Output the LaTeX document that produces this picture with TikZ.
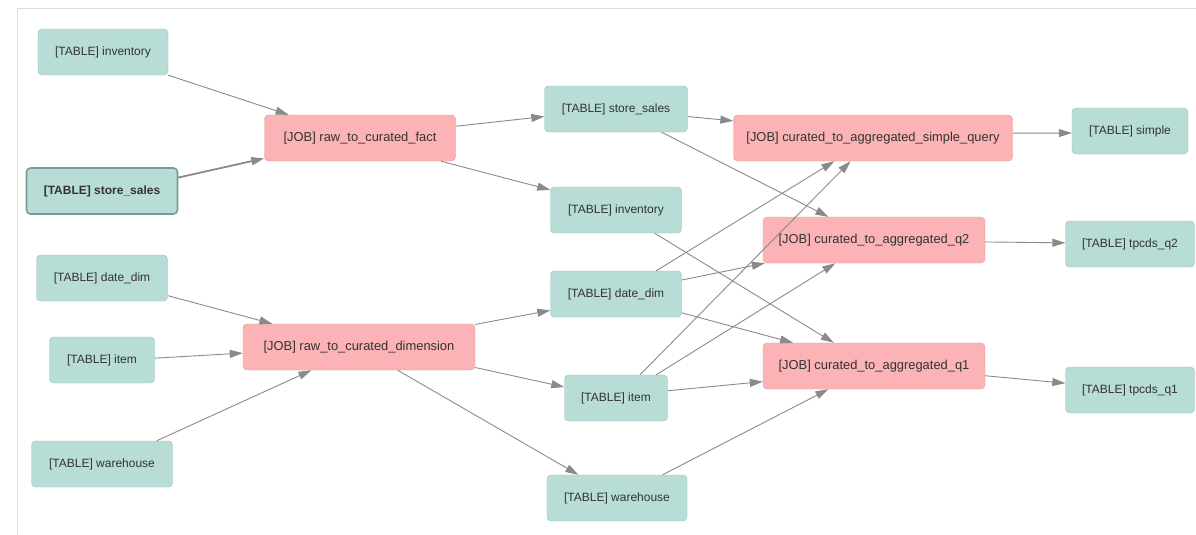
\documentclass[tikz,border=0pt]{standalone}
\usepackage{fontspec}
\setmainfont{Liberation Sans}
\usetikzlibrary{arrows.meta}
\definecolor{tablefill}{HTML}{B8DDD6}
\definecolor{tabledraw}{HTML}{96C2BA}
\definecolor{jobfill}{HTML}{FBB3B5}
\definecolor{jobdraw}{HTML}{E39A9D}
\definecolor{edgegray}{HTML}{8A8A8A}
\definecolor{textgray}{HTML}{333333}
\definecolor{framegray}{HTML}{DDDDDD}
\begin{document}
\begin{tikzpicture}[>={Triangle[length=13bp,width=8bp]},line join=bevel,
  box/.style={draw,rounded corners=4bp,minimum height=46bp,inner xsep=4bp,
    text=textgray,font=\fontsize{12bp}{14bp}\selectfont},
  table/.style={box,fill=tablefill,draw=tabledraw},
  job/.style={box,fill=jobfill,draw=jobdraw,font=\fontsize{12.9bp}{15bp}\selectfont},
  edge/.style={edgegray,line width=0.9bp,->}]
%%
\useasboundingbox (0bp,0bp) rectangle (1196bp,-535bp);
\draw [framegray,line width=1bp] (17bp,-535bp) -- (17bp,-8bp) -- (1196bp,-8bp);
%%
\node (node_0) at (103bp,-52bp) [table,minimum width=130bp] {[TABLE] inventory};
  \node (node_1) at (102bp,-191bp) [table,minimum width=151bp,line width=1.6bp,draw=tabledraw!80!black] {\bfseries [TABLE] store\_sales};
  \node (node_2) at (102bp,-278bp) [table,minimum width=131bp] {[TABLE] date\_dim};
  \node (node_3) at (102bp,-360bp) [table,minimum width=105bp] {[TABLE] item};
  \node (node_4) at (102bp,-464bp) [table,minimum width=141bp] {[TABLE] warehouse};
  \node (node_5) at (360bp,-138bp) [job,minimum width=191bp] {[JOB] raw\_to\_curated\_fact};
  \node (node_6) at (359bp,-347bp) [job,minimum width=232bp] {[JOB] raw\_to\_curated\_dimension};
  \node (node_7) at (616bp,-109bp) [table,minimum width=143bp] {[TABLE] store\_sales};
  \node (node_8) at (616bp,-210bp) [table,minimum width=131bp] {[TABLE] inventory};
  \node (node_9) at (616bp,-294bp) [table,minimum width=131bp] {[TABLE] date\_dim};
  \node (node_10) at (616bp,-398bp) [table,minimum width=103bp] {[TABLE] item};
  \node (node_11) at (617bp,-498bp) [table,minimum width=140bp] {[TABLE] warehouse};
  \node (node_12) at (873bp,-138bp) [job,minimum width=279bp] {[JOB] curated\_to\_aggregated\_simple\_query};
  \node (node_13) at (874bp,-240bp) [job,minimum width=222bp] {[JOB] curated\_to\_aggregated\_q2};
  \node (node_14) at (874bp,-366bp) [job,minimum width=222bp] {[JOB] curated\_to\_aggregated\_q1};
  \node (node_15) at (1130bp,-131bp) [table,minimum width=116bp] {[TABLE] simple};
  \node (node_16) at (1130bp,-244bp) [table,minimum width=129bp] {[TABLE] tpcds\_q2};
  \node (node_17) at (1130bp,-390bp) [table,minimum width=129bp] {[TABLE] tpcds\_q1};
  \draw [edge] (node_0.south east) -- (node_5.162);
  \draw [edge,line width=1.8bp] (node_1.10) -- (node_5.192);
  \draw [edge] (node_2.345) -- (node_6.165);
  \draw [edge] (node_3.2) -- (node_6.183);
  \draw [edge] (node_4.23) -- (node_6.206);
  \draw [edge] (node_5.7) -- (node_7.186);
  \draw [edge] (node_5.344) -- (node_8.163);
  \draw [edge] (node_6.11) -- (node_9.194);
  \draw [edge] (node_6.350) -- (node_10.168);
  \draw [edge] (node_6.329) -- (node_11.149);
  \draw [edge] (node_7.354) -- (node_12.173);
  \draw [edge] (node_7.333) -- (node_13.153);
  \draw [edge] (node_8.329) -- (node_14.150);
  \draw [edge] (node_9.30) -- (node_12.211);
  \draw [edge] (node_9.12) -- (node_13.192);
  \draw [edge] (node_9.344) -- (node_14.164);
  \draw [edge] (node_10.44) -- (node_12.226);
  \draw [edge] (node_10.30) -- (node_13.211);
  \draw [edge] (node_10.8) -- (node_14.188);
  \draw [edge] (node_11.27) -- (node_14.207);
  \draw [edge] (node_12.2) -- (node_15.182);
  \draw [edge] (node_13.359) -- (node_16.179);
  \draw [edge] (node_14.355) -- (node_17.174);
%
\end{tikzpicture}
\end{document}
